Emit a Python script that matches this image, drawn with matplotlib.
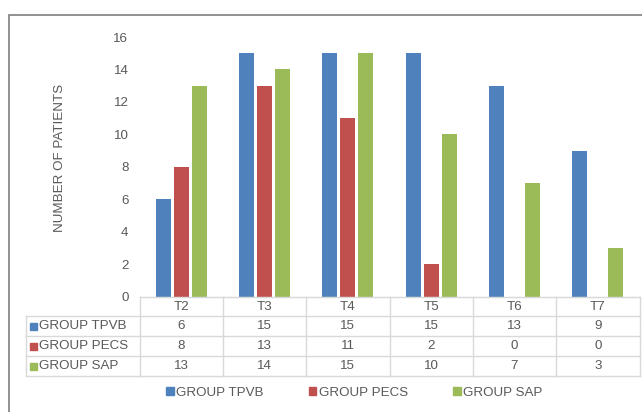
import matplotlib.pyplot as plt
from matplotlib.patches import Rectangle
from matplotlib.lines import Line2D
import numpy as np

plt.rcParams['font.family'] = ['Liberation Sans', 'DejaVu Sans']

times = ["T2", "T3", "T4", "T5", "T6", "T7"]
tpvb = [6, 15, 15, 15, 13, 9]
pecs = [8, 13, 11, 2, 0, 0]
sap = [13, 14, 15, 10, 7, 3]
groups = ["GROUP TPVB", "GROUP PECS", "GROUP SAP"]
colors = ["#4F81BD", "#C0504D", "#9BBB59"]
yticks = [0, 2, 4, 6, 8, 10, 12, 14, 16]

W, H = 642, 412
text_col = "#595959"
grid_col = "#D9D9D9"
fs = 9.6


def fx(px):
    return px / W


def fy(py):
    return 1 - py / H


fig = plt.figure(figsize=(W / 100, H / 100), dpi=100)

# outer chart frame
fig.patches.append(Rectangle((fx(9), fy(420)), fx(700), fy(15) - fy(420),
                             transform=fig.transFigure, fill=False,
                             edgecolor="#7F7F7F", linewidth=1.2))

x0, x1 = 139.5, 639.5
y_top, y_zero = 37, 296.5
ax = fig.add_axes([fx(x0), fy(y_zero), fx(x1 - x0), fy(y_top) - fy(y_zero)])

n = len(times)
x = np.arange(n)
bw = 0.18
gap = 0.036
series = [tpvb, pecs, sap]
for i, (vals, c) in enumerate(zip(series, colors)):
    ax.bar(x + (i - 1) * (bw + gap), vals, width=bw, color=c, label=groups[i])

ax.set_xlim(-0.5, n - 0.5)
ax.set_ylim(0, 16)
ax.set_yticks(yticks)
ax.set_xticks([])
ax.tick_params(axis="y", length=0, pad=8, labelsize=fs, labelcolor=text_col)
for s in ["top", "right", "left"]:
    ax.spines[s].set_visible(False)
ax.spines["bottom"].set_color(grid_col)

fig.text(fx(60), fy(157.5), "NUMBER OF PATIENTS", rotation=90, ha="center",
         va="center", fontsize=fs, color=text_col)

# data table below the axis
col_w = (x1 - x0) / n
row_lines = [297, 316, 336, 356, 376]
tab_left = 26


def hline(y, xa, xb):
    fig.add_artist(Line2D([fx(xa), fx(xb)], [fy(y), fy(y)], color=grid_col,
                          linewidth=1.0, transform=fig.transFigure))


def vline(xp, ya, yb):
    fig.add_artist(Line2D([fx(xp), fx(xp)], [fy(ya), fy(yb)], color=grid_col,
                          linewidth=1.0, transform=fig.transFigure))


hline(row_lines[0], x0, x1)
for y in row_lines[1:]:
    hline(y, tab_left, x1)
for k in range(n + 1):
    vline(x0 + k * col_w, row_lines[0], row_lines[-1])
vline(tab_left, row_lines[1], row_lines[-1])

for k, t in enumerate(times):
    cx = x0 + (k + 0.5) * col_w
    fig.text(fx(cx), fy((row_lines[0] + row_lines[1]) / 2), t, ha="center",
             va="center", fontsize=fs, color=text_col)
    for r, vals in enumerate(series):
        cy = (row_lines[r + 1] + row_lines[r + 2]) / 2
        fig.text(fx(cx), fy(cy), str(vals[k]), ha="center", va="center",
                 fontsize=fs, color=text_col)

for r, (g, c) in enumerate(zip(groups, colors)):
    cy = (row_lines[r + 1] + row_lines[r + 2]) / 2
    fig.patches.append(Rectangle((fx(30), fy(cy + 3.5)), fx(7), fy(cy - 3.5) - fy(cy + 3.5),
                                 transform=fig.transFigure, color=c))
    fig.text(fx(39), fy(cy), g, ha="left", va="center", fontsize=fs, color=text_col)

# legend
handles = [Rectangle((0, 0), 1, 1, color=c) for c in colors]
fig.legend(handles, groups, loc="center", bbox_to_anchor=(fx(354.5), fy(393)),
           ncol=3, frameon=False, fontsize=fs, labelcolor=text_col,
           handlelength=0.55, handleheight=0.55, handletextpad=0.2,
           columnspacing=3.4, borderpad=0, borderaxespad=0)

fig.savefig("out.png", dpi=100)
